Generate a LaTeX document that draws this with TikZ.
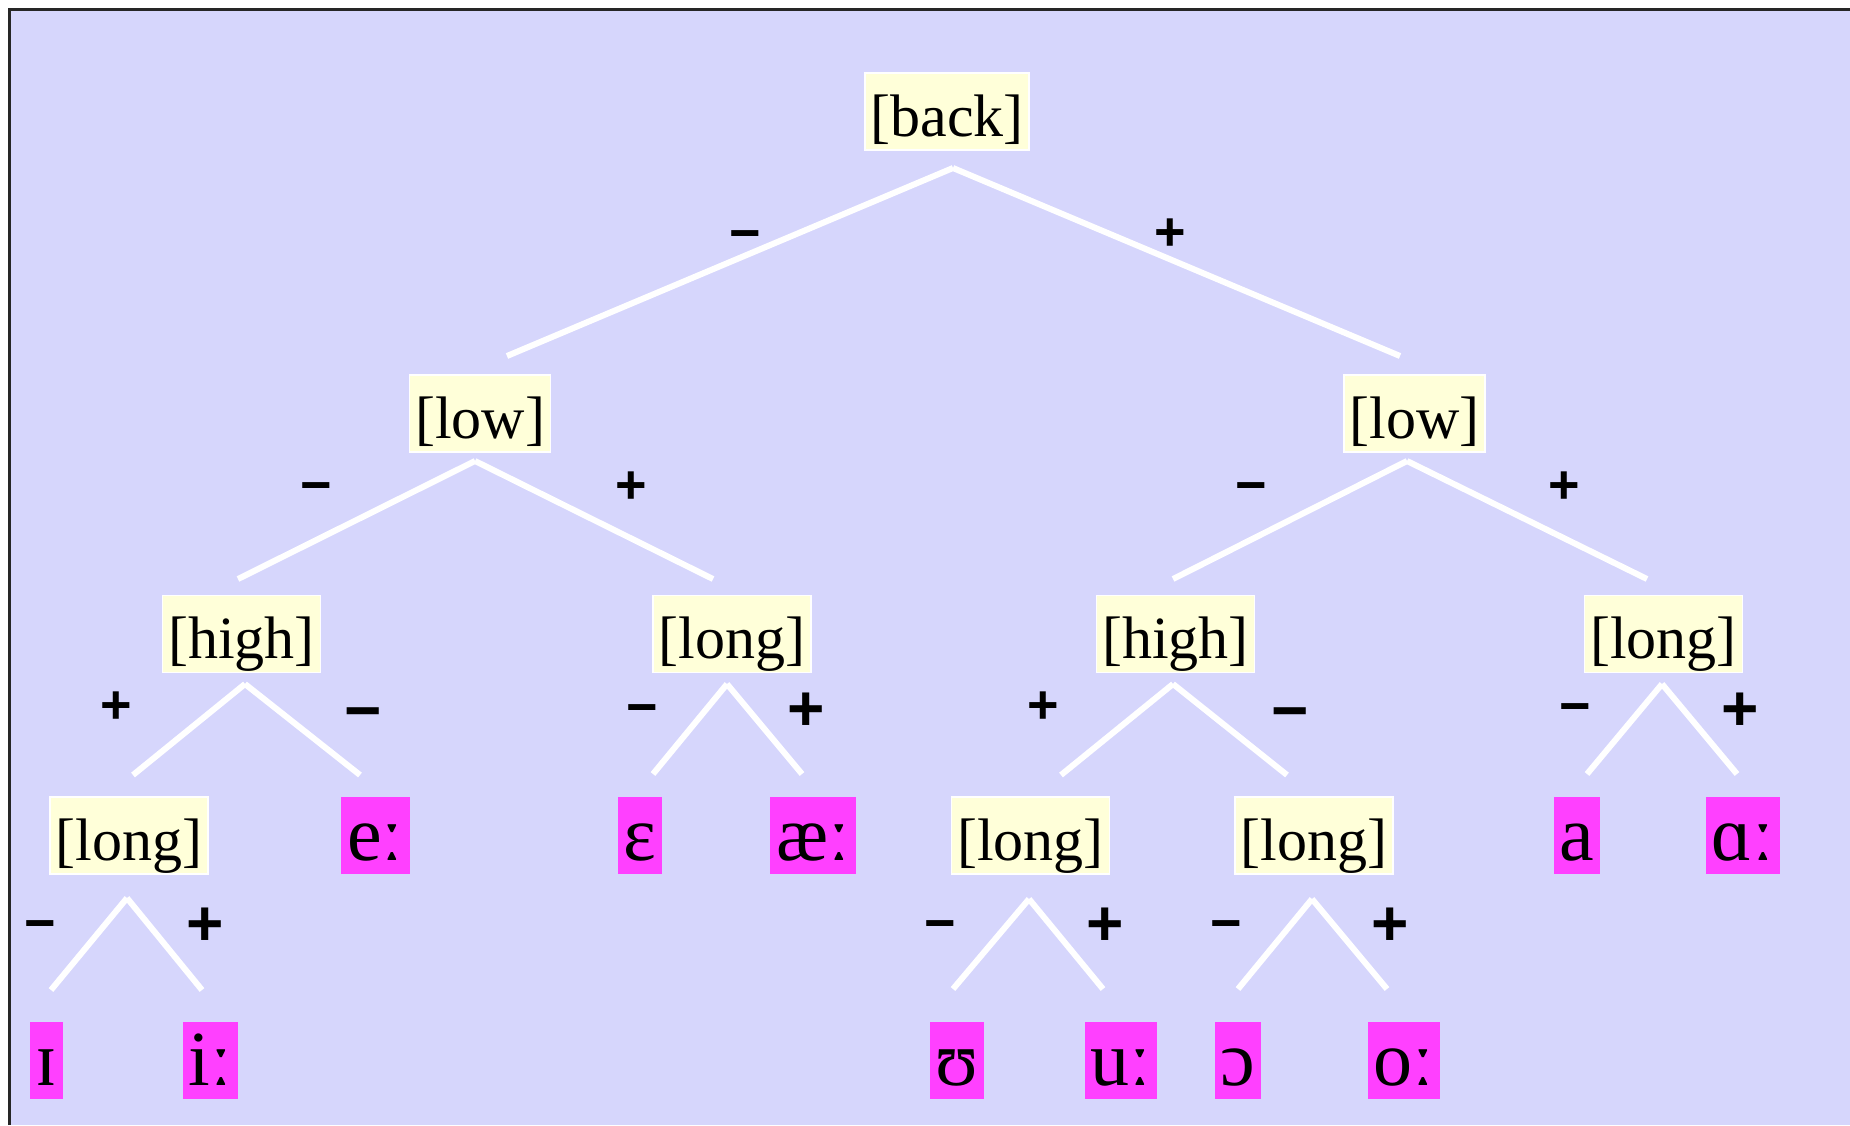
\documentclass[tikz,border=0pt]{standalone}
\usepackage{fontspec}
\setmainfont{Liberation Serif}
\newfontfamily\signfont{Liberation Sans}
\definecolor{bgl}{RGB}{214,214,252}
\definecolor{ylw}{RGB}{255,255,217}
\definecolor{mgt}{RGB}{255,64,255}
\begin{document}
\begin{tikzpicture}[x=0.5pt,y=-0.5pt,
  feat/.style={fill=ylw, draw=white, line width=0.75pt, font=\fontsize{30}{36}\selectfont,
    inner xsep=2.8pt, inner ysep=0pt, text height=31.5pt, text depth=7pt},
  seg/.style={fill=mgt, font=\fontsize{39}{44}\selectfont,
    inner xsep=3pt, inner ysep=0pt, text height=31.5pt, text depth=7pt},
  branch/.style={draw=white, line width=3pt},
  sgn/.style={font=\signfont\bfseries\fontsize{27}{30}\selectfont, inner sep=0pt, text height=18.9pt, text depth=0pt},
  bigsgn/.style={font=\signfont\bfseries\fontsize{32}{36}\selectfont, inner sep=0pt, text height=22.4pt, text depth=0pt}]
\useasboundingbox (0,0) rectangle (1850,1125);
\fill[white] (0,0) rectangle (1850,1125);
\fill[bgl] (9.5,9.5) rectangle (1850,1125);
\draw[line width=1.25pt, black!85] (9.5,1125) -- (9.5,9.5) -- (1850,9.5);

% feature nodes
\node[feat] (back) at (947,111.5) {[back]};
\node[feat] (lowL) at (480,413.5) {[low]};
\node[feat] (lowR) at (1414.5,413.5) {[low]};
\node[feat] (highL) at (241.5,634) {[high]};
\node[feat] (longM) at (732,634) {[long]};
\node[feat] (highR) at (1175.5,634) {[high]};
\node[feat] (longR) at (1663.5,634) {[long]};
\node[feat] (longLL) at (129,835.5) {[long]};
\node[feat] (longU) at (1030.5,835.5) {[long]};
\node[feat] (longO) at (1314,835.5) {[long]};

% segment nodes
\node[seg] (ee) at (375.5,835.5) {eː};
\node[seg] (eps) at (640,835.5) {ɛ};
\node[seg] (ae) at (813,835.5) {æː};
\node[seg] (aa) at (1577,835.5) {a};
\node[seg] (alpha) at (1743,835.5) {ɑː};
\node[seg] (ih) at (46.5,1060.5) {ɪ};
\node[seg] (ii) at (210.5,1060.5) {iː};
\node[seg] (uh) at (957,1060.5) {ʊ};
\node[seg] (uu) at (1121,1060.5) {uː};
\node[seg] (oh) at (1238,1060.5) {ɔ};
\node[seg] (oo) at (1404,1060.5) {oː};

% branch coordinates
\coordinate (backT) at (953,168);  \coordinate (backA) at (507,356);  \coordinate (backB) at (1400,356);
\coordinate (lowLT) at (475,461);  \coordinate (lowLA) at (238,579);  \coordinate (lowLB) at (713,579);
\coordinate (lowRT) at (1407,461); \coordinate (lowRA) at (1173,579); \coordinate (lowRB) at (1647,579);
\coordinate (highLT) at (245,684); \coordinate (highLA) at (133,775); \coordinate (highLB) at (360,775);
\coordinate (longMT) at (727,684); \coordinate (longMA) at (653,774); \coordinate (longMB) at (802,774);
\coordinate (highRT) at (1173,684); \coordinate (highRA) at (1061,775); \coordinate (highRB) at (1287,775);
\coordinate (longRT) at (1662,684); \coordinate (longRA) at (1587,774); \coordinate (longRB) at (1737,774);
\coordinate (longLLT) at (127,898); \coordinate (longLLA) at (51,990); \coordinate (longLLB) at (202,990);
\coordinate (longUT) at (1029,899); \coordinate (longUA) at (953,989); \coordinate (longUB) at (1103,989);
\coordinate (longOT) at (1312,899); \coordinate (longOA) at (1238,989); \coordinate (longOB) at (1387,989);

\foreach \n in {back,lowL,lowR,highL,longM,highR,longR,longLL,longU,longO}{
  \draw[branch] (\n T) -- (\n A);
  \draw[branch] (\n T) -- (\n B);
}

% signs
\node[sgn] (s1) at (745,233) {−};
\node[sgn] (s2) at (1170,232) {+};
\node[sgn] (s3) at (316,485) {−};
\node[sgn] (s4) at (631,485) {+};
\node[sgn] (s5) at (1251,485) {−};
\node[sgn] (s6) at (1564,485) {+};
\node[sgn] (s7) at (116,705) {+};
\node[bigsgn] (s8) at (363,710) {−};
\node[sgn] (s9) at (642,707) {−};
\node[bigsgn] (s10) at (806,708) {+};
\node[sgn] (s11) at (1043,705) {+};
\node[bigsgn] (s12) at (1290,710) {−};
\node[sgn] (s13) at (1575,706) {−};
\node[bigsgn] (s14) at (1740,708) {+};
\node[sgn] (s15) at (40,923) {−};
\node[bigsgn] (s16) at (205,923) {+};
\node[sgn] (s17) at (940,923) {−};
\node[bigsgn] (s18) at (1105,923) {+};
\node[sgn] (s19) at (1226,923) {−};
\node[bigsgn] (s20) at (1390,923) {+};
\end{tikzpicture}
\end{document}
